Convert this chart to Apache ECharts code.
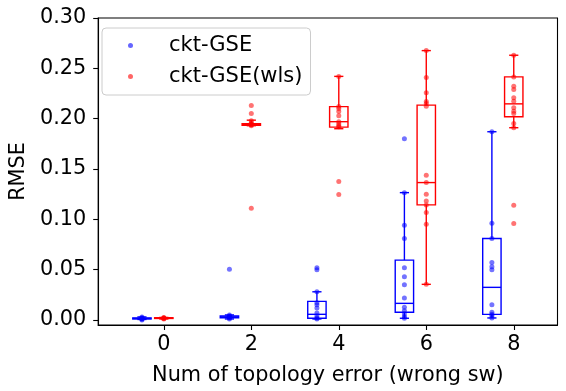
<!DOCTYPE html>
<html>
<head>
<meta charset="utf-8">
<script src="https://cdn.jsdelivr.net/npm/echarts@6/dist/echarts.min.js"></script>
<style>html,body{margin:0;padding:0;background:#fff}#c{width:566px;height:391px}</style>
</head>
<body>
<div id="c"></div>
<script>
// Data
const categories = [0, 2, 4, 6, 8];
const blueOffset = -0.5;
const yTicks = [0, 0.05, 0.10, 0.15, 0.20, 0.25, 0.30];
// box stats: [lowWhisker, Q1, median, Q3, highWhisker]
const blueBoxes = [
  [0.0005, 0.001, 0.0015, 0.002, 0.003],
  [0.001, 0.0022, 0.003, 0.004, 0.005],
  [0.001, 0.0017, 0.0056, 0.0185, 0.028],
  [0.0017, 0.0076, 0.0165, 0.0595, 0.1265],
  [0.002, 0.0056, 0.0324, 0.081, 0.187]
];
const redBoxes = [
  [0.001, 0.0015, 0.002, 0.0022, 0.0025],
  [0.193, 0.1935, 0.194, 0.195, 0.1985],
  [0.19, 0.1916, 0.197, 0.212, 0.242],
  [0.0354, 0.1143, 0.1365, 0.2134, 0.2676],
  [0.191, 0.2019, 0.2147, 0.2415, 0.263]
];
const bluePoints = [
  [0.000, 0.001, 0.001, 0.002, 0.002, 0.003],
  [0.001, 0.002, 0.003, 0.003, 0.004, 0.005, 0.0505],
  [0.001, 0.002, 0.004, 0.007, 0.012, 0.015, 0.017, 0.028, 0.050, 0.052],
  [0.0017, 0.0033, 0.006, 0.0092, 0.0126, 0.0218, 0.035, 0.043, 0.052, 0.081, 0.094, 0.1265, 0.180],
  [0.002, 0.0043, 0.0056, 0.0076, 0.0152, 0.0499, 0.0529, 0.0572, 0.081, 0.0961, 0.187]
];
const redPoints = [
  [0.001, 0.0015, 0.002, 0.002, 0.0025],
  [0.193, 0.194, 0.194, 0.195, 0.196, 0.198, 0.205, 0.213, 0.111],
  [0.192, 0.193, 0.195, 0.197, 0.203, 0.207, 0.210, 0.212, 0.242, 0.1375, 0.1246],
  [0.0354, 0.0951, 0.1067, 0.1143, 0.1183, 0.1249, 0.1365, 0.1437, 0.2124, 0.215, 0.217, 0.2257, 0.2408, 0.2676],
  [0.191, 0.1952, 0.2051, 0.2074, 0.2108, 0.2174, 0.2207, 0.229, 0.2322, 0.2415, 0.263, 0.114, 0.0958]
];

const BLUE = '#0000ff', RED = '#ff0000';
const BOX_W = 0.42;
const FONT = 'DejaVu Sans';

function boxData(boxes, off) {
  return boxes.map((b, i) => [categories[i] + off].concat(b));
}
function pointData(pts, off) {
  const out = [];
  pts.forEach((arr, i) => arr.forEach(v => out.push([categories[i] + off, v])));
  return out;
}
function makeRender(color) {
  return function (params, api) {
    const x = api.value(0);
    const lo = api.coord([x, api.value(1)]);
    const q1 = api.coord([x, api.value(2)]);
    const md = api.coord([x, api.value(3)]);
    const q3 = api.coord([x, api.value(4)]);
    const hi = api.coord([x, api.value(5)]);
    const w = api.size([BOX_W, 0])[0];
    const cx = lo[0];
    const st = { stroke: color, lineWidth: 1.4, fill: null };
    return {
      type: 'group',
      children: [
        { type: 'line', shape: { x1: cx, y1: lo[1], x2: cx, y2: q1[1] }, style: st },
        { type: 'line', shape: { x1: cx, y1: q3[1], x2: cx, y2: hi[1] }, style: st },
        { type: 'line', shape: { x1: cx - w / 4, y1: lo[1], x2: cx + w / 4, y2: lo[1] }, style: st },
        { type: 'line', shape: { x1: cx - w / 4, y1: hi[1], x2: cx + w / 4, y2: hi[1] }, style: st },
        { type: 'rect', shape: { x: cx - w / 2, y: q3[1], width: w, height: q1[1] - q3[1] }, style: st },
        { type: 'line', shape: { x1: cx - w / 2, y1: md[1], x2: cx + w / 2, y2: md[1] }, style: st }
      ]
    };
  };
}

const chart = echarts.init(document.getElementById('c'), null, { renderer: 'canvas' });
chart.setOption({
  animation: false,
  backgroundColor: '#fff',
  textStyle: { fontFamily: FONT },
  grid: { left: 92, right: 8.5, top: 18, bottom: 65, show: true, borderColor: '#000', borderWidth: 1.1, backgroundColor: 'transparent' },
  legend: {
    left: 102, top: 28,
    orient: 'vertical',
    data: ['ckt-GSE', 'ckt-GSE(wls)'],
    itemWidth: 5, itemHeight: 5,
    itemGap: 10,
    padding: [7, 8, 8, 26],
    borderColor: '#cccccc', borderWidth: 1, borderRadius: 4,
    backgroundColor: 'rgba(255,255,255,0.8)',
    itemStyle: { opacity: 0.6 },
    textStyle: { fontFamily: FONT, fontSize: 21, color: '#000', lineHeight: 21, padding: [0, 0, 0, 31] }
  },
  xAxis: {
    type: 'value', min: -1.5, max: 9,
    name: 'Num of topology error (wrong sw)', nameLocation: 'middle', nameGap: 40,
    nameTextStyle: { fontFamily: FONT, fontSize: 20.8, color: '#000' },
    axisLine: { show: true, onZero: false, lineStyle: { color: '#000', width: 1.1 } },
    axisTick: { show: true, length: 5, lineStyle: { color: '#000', width: 1.1 }, customValues: categories },
    axisLabel: { customValues: categories, fontFamily: FONT, fontSize: 20.8, color: '#000', margin: 9 },
    splitLine: { show: false }
  },
  yAxis: {
    type: 'value', min: -0.005, max: 0.3,
    name: 'RMSE', nameLocation: 'middle', nameGap: 56,
    nameTextStyle: { fontFamily: FONT, fontSize: 20.8, color: '#000' },
    axisLine: { show: true, onZero: false, lineStyle: { color: '#000', width: 1.1 } },
    axisTick: { show: true, length: 5, lineStyle: { color: '#000', width: 1.1 }, customValues: yTicks },
    axisLabel: { customValues: yTicks, fontFamily: FONT, fontSize: 20.8, color: '#000', margin: 12, formatter: v => v.toFixed(2) },
    splitLine: { show: false }
  },
  series: [
    { type: 'custom', name: 'ckt-GSE-box', renderItem: makeRender(BLUE), data: boxData(blueBoxes, blueOffset), encode: { x: 0, y: [1, 2, 3, 4, 5] }, z: 2 },
    { type: 'custom', name: 'ckt-GSE(wls)-box', renderItem: makeRender(RED), data: boxData(redBoxes, 0), encode: { x: 0, y: [1, 2, 3, 4, 5] }, z: 2 },
    { type: 'scatter', name: 'ckt-GSE', data: pointData(bluePoints, blueOffset), symbol: 'circle', symbolSize: 5, itemStyle: { color: BLUE, opacity: 0.55 }, z: 3 },
    { type: 'scatter', name: 'ckt-GSE(wls)', data: pointData(redPoints, 0), symbol: 'circle', symbolSize: 5, itemStyle: { color: RED, opacity: 0.55 }, z: 3 }
  ]
});
</script>
</body>
</html>
